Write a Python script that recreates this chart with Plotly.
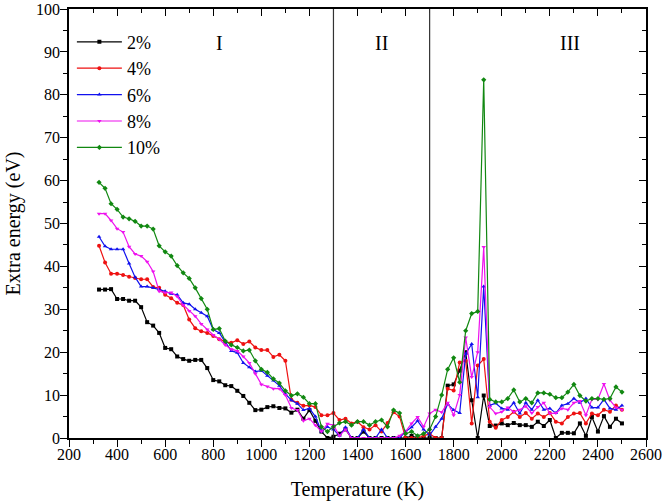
import plotly.graph_objects as go

temperature = list(range(325, 2501, 25))

e2 = [34.6, 34.6, 34.7, 32.4, 32.4, 32.0, 32.0, 30.5, 27.0, 26.2,
      24.5, 21.0, 20.7, 19.0, 18.4, 18.0, 18.2, 18.2, 16.3, 13.5,
      13.2, 12.3, 12.1, 11.0, 9.8, 8.2, 6.5, 6.6, 7.2, 7.4,
      7.0, 6.9, 5.9, 6.6, 4.5, 6.5, 4.0, 1.5, 0.0, 0.3,
      1.0, 2.0, 0.0, 0.0, 1.5, 0.0, 0.0, 0.0, 0.0, 0.0,
      0.0, 0.0, 0.5, 0.0, 0.0, 0.0, 0.0, 0.0, 12.2, 12.5,
      15.7, 20.0, 8.8, 0.0, 9.9, 2.8, 2.9, 3.4, 3.0, 3.5,
      3.0, 3.0, 2.6, 3.8, 2.8, 4.2, 0.0, 1.2, 1.2, 1.1,
      3.4, 0.5, 4.9, 1.5, 5.1, 2.6, 4.5, 3.4]

e4 = [44.8, 40.9, 38.3, 38.3, 38.0, 37.6, 37.3, 37.0, 37.0, 35.2,
      35.0, 33.4, 32.6, 31.5, 31.0, 27.6, 25.6, 24.9, 24.5, 23.8,
      23.0, 22.4, 22.2, 22.8, 21.9, 22.5, 21.1, 20.5, 20.5, 18.9,
      19.4, 18.0, 8.9, 8.2, 7.5, 7.6, 7.2, 5.3, 5.3, 5.8,
      4.2, 4.5, 3.4, 3.8, 2.5, 2.0, 3.0, 1.5, 3.5, 6.0,
      5.0, 0.0, 0.0, 0.0, 0.5, 1.0, 0.0, 0.0, 11.5, 11.1,
      17.6, 18.0, 3.4, 16.9, 18.4, 3.8, 2.4, 4.2, 4.9, 6.1,
      4.9, 5.8, 4.5, 5.7, 4.9, 5.8, 3.8, 3.4, 4.9, 5.7,
      5.8, 3.4, 5.7, 5.3, 6.6, 6.1, 7.6, 6.6]

e6 = [46.9, 44.7, 44.0, 44.0, 44.0, 40.7, 37.5, 35.3, 35.3, 35.0,
      34.6, 34.2, 33.6, 33.4, 31.5, 31.2, 30.0, 29.2, 28.4, 25.3,
      24.5, 22.4, 20.3, 19.9, 17.5, 16.5, 15.5, 15.7, 14.5, 13.4,
      12.2, 10.3, 8.8, 8.0, 6.5, 6.9, 5.0, 1.5, 2.6, 2.0,
      0.5, 2.5, 0.0, 0.0, 2.0, 0.0, 0.0, 2.0, 0.0, 0.0,
      0.0, 1.5, 2.5, 4.0, 2.0, 0.7, 2.6, 4.5, 7.9, 6.5,
      5.8, 19.6, 21.9, 9.5, 35.3, 7.6, 8.1, 6.9, 6.6, 8.2,
      5.7, 8.2, 6.6, 8.8, 6.6, 6.9, 5.8, 7.6, 8.0, 9.2,
      8.2, 9.2, 7.1, 7.1, 9.0, 6.9, 6.6, 7.6]

e8 = [52.3, 52.3, 50.7, 48.8, 48.0, 44.6, 42.9, 42.4, 41.1, 38.8,
      34.2, 33.9, 33.9, 33.0, 31.0, 29.6, 28.4, 26.6, 25.3, 24.0,
      23.0, 21.7, 20.7, 20.3, 19.0, 17.5, 15.0, 12.5, 12.0, 11.5,
      11.5, 10.0, 7.0, 6.5, 4.0, 4.5, 3.0, 1.5, 3.3, 3.0,
      0.5, 2.0, 0.0, 0.0, 0.0, 0.0, 0.0, 0.0, 0.0, 0.0,
      0.5, 1.5, 3.4, 4.9, 2.6, 5.7, 6.6, 6.0, 8.2, 5.3,
      10.0, 23.4, 14.2, 20.0, 44.5, 7.2, 5.7, 6.1, 7.1, 6.1,
      6.6, 7.4, 5.8, 7.2, 8.2, 5.7, 5.8, 6.9, 6.6, 8.2,
      8.6, 5.3, 9.0, 9.0, 12.6, 8.8, 7.1, 6.6]

e10 = [59.6, 58.2, 54.6, 53.3, 51.5, 51.1, 50.5, 49.4, 49.4, 48.7,
       44.8, 43.4, 42.4, 40.2, 38.5, 37.2, 35.0, 32.5, 30.0, 25.3,
       25.5, 22.6, 21.7, 21.1, 20.3, 20.5, 18.0, 16.0, 15.3, 13.8,
       12.8, 11.0, 9.9, 10.3, 9.5, 8.0, 8.0, 2.6, 1.5, 2.6,
       3.5, 3.8, 3.0, 3.8, 3.8, 3.0, 3.8, 4.2, 2.6, 6.5,
       5.8, 1.0, 1.5, 0.5, 1.0, 2.0, 5.0, 10.0, 16.0, 18.7,
       13.0, 25.0, 29.0, 29.5, 83.5, 9.0, 8.4, 8.4, 9.2, 11.2,
       8.4, 9.2, 8.2, 10.5, 10.5, 10.2, 9.4, 9.4, 10.7, 12.5,
       9.9, 8.6, 9.2, 9.2, 9.0, 9.2, 11.9, 10.7]

series_names = ["2%", "4%", "6%", "8%", "10%"]
series_values = [e2, e4, e6, e8, e10]
series_colors = ["#000000", "#ee1111", "#1111ee", "#ee11ee", "#118811"]
series_symbols = ["square", "circle", "triangle-up", "triangle-down", "diamond"]

region_labels = ["I", "II", "III"]
region_label_x = [824, 1500, 2285]
region_bounds = [1300, 1700]

FONT = "Liberation Serif"

fig = go.Figure()
for name, vals, color, sym in zip(series_names, series_values, series_colors, series_symbols):
    fig.add_trace(go.Scatter(
        x=temperature, y=vals, mode="lines+markers", name=name,
        line=dict(color=color, width=1.2),
        marker=dict(symbol=sym, size=4, color=color, line=dict(width=0)),
    ))

# helper trace for mirrored inside-tick axes
fig.add_trace(go.Scatter(x=[2600], y=[100], xaxis="x2", yaxis="y2",
                         mode="markers", marker=dict(opacity=0),
                         showlegend=False, hoverinfo="skip"))

for xb in region_bounds:
    fig.add_shape(type="line", x0=xb, x1=xb, y0=0, y1=1, xref="x", yref="paper",
                  line=dict(color="#333333", width=1.2))

for lab, lx in zip(region_labels, region_label_x):
    fig.add_annotation(x=lx, y=92, text=lab, showarrow=False, xref="x", yref="y",
                       font=dict(family=FONT, size=20, color="black"))

axis_common = dict(showgrid=False, zeroline=False, linecolor="black", linewidth=1.5,
                   automargin=False)

fig.update_layout(
    width=663, height=504,
    margin=dict(l=69, r=17, t=9, b=66),
    paper_bgcolor="white", plot_bgcolor="white",
    font=dict(family=FONT, size=16, color="black"),
    xaxis=dict(range=[200, 2600], tickmode="linear", tick0=200, dtick=200,
               ticks="outside", ticklen=7, tickwidth=1.3, tickcolor="black",
               minor=dict(ticks="outside", ticklen=4, dtick=100, tickcolor="black", tickwidth=1.3),
               showline=True, ticklabelstandoff=-6,
               title=dict(text="Temperature (K)", font=dict(family=FONT, size=20), standoff=20),
               tickfont=dict(family=FONT, size=16), **axis_common),
    yaxis=dict(range=[0, 100], tickmode="linear", tick0=0, dtick=10,
               ticks="outside", ticklen=7, tickwidth=1.3, tickcolor="black",
               minor=dict(ticks="outside", ticklen=4, dtick=5, tickcolor="black", tickwidth=1.3),
               showline=True, ticklabelstandoff=-3,
               title=dict(text="Extra energy (eV)", font=dict(family=FONT, size=20), standoff=10),
               tickfont=dict(family=FONT, size=16), **axis_common),
    xaxis2=dict(range=[200, 2600], overlaying="x", side="top", tickmode="linear",
                tick0=200, dtick=200, ticks="inside", ticklen=7, tickwidth=1.3, tickcolor="black",
                minor=dict(ticks="inside", ticklen=4, dtick=100, tickcolor="black", tickwidth=1.3),
                showticklabels=False, showline=True, **axis_common),
    yaxis2=dict(range=[0, 100], overlaying="y", side="right", tickmode="linear",
                tick0=0, dtick=10, ticks="inside", ticklen=7, tickwidth=1.3, tickcolor="black",
                minor=dict(ticks="inside", ticklen=4, dtick=5, tickcolor="black", tickwidth=1.3),
                showticklabels=False, showline=True, **axis_common),
    legend=dict(x=0.005, y=0.966, xanchor="left", yanchor="top",
                bgcolor="rgba(0,0,0,0)", borderwidth=0,
                font=dict(family=FONT, size=18), itemwidth=45, tracegroupgap=0),
    showlegend=True,
)

fig.write_html("out.html", post_script="document.body.style.margin='0';",
               config={"displayModeBar": False})
